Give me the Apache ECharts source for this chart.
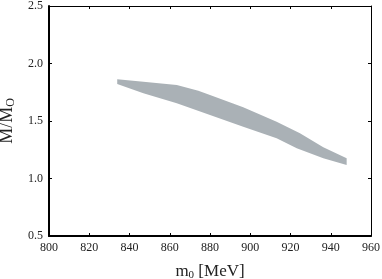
<!DOCTYPE html>
<html><head><meta charset="utf-8">
<script src="https://cdn.jsdelivr.net/npm/echarts@6/dist/echarts.min.js"></script>
<style>html,body{margin:0;padding:0;background:#fff}#c{width:382px;height:279px}</style>
</head><body><div id="c"></div>
<script>
var xTicks = [800, 820, 840, 860, 880, 900, 920, 940, 960];
var yTicks = [0.5, 1.0, 1.5, 2.0, 2.5];
var bandX = [833.9, 846.9, 863.5, 874.2, 880.0, 896.5, 913.1, 924.7, 936.3, 947.9];
var bandUpper = [1.863, 1.842, 1.813, 1.763, 1.726, 1.619, 1.494, 1.393, 1.271, 1.176];
var lowerX = [833.9, 846.9, 863.5, 880.0, 896.5, 913.1, 923.1, 936.3, 947.9];
var bandLower = [1.822, 1.741, 1.654, 1.552, 1.450, 1.350, 1.263, 1.176, 1.117];

var ring = [];
for (var i = 0; i < bandX.length; i++) ring.push([bandX[i], bandUpper[i]]);
for (var j = lowerX.length - 1; j >= 0; j--) ring.push([lowerX[j], bandLower[j]]);

var font = 'Liberation Serif';
var chart = echarts.init(document.getElementById('c'));
chart.setOption({
  animation: false,
  grid: {left: 49, right: 11, top: 6, bottom: 43, containLabel: false, outerBoundsMode: 'none'},
  xAxis: [{
    type: 'value', min: 800, max: 960, interval: 20, position: 'bottom',
    axisLine: {lineStyle: {color: '#000', width: 2}},
    axisTick: {inside: true, length: 3, lineStyle: {color: '#000'}},
    axisLabel: {color: '#222', fontFamily: font, fontSize: 12, margin: 6},
    splitLine: {show: false},
    name: 'm{s|0} [MeV]', nameLocation: 'middle', nameGap: 26,
    nameTextStyle: {color: '#222', fontFamily: font, fontSize: 17,
      rich: {s: {fontFamily: font, fontSize: 11, verticalAlign: 'bottom', padding: [8, 0, 0, 0]}}}
  }, {
    type: 'value', min: 800, max: 960, interval: 20, position: 'top',
    axisLine: {show: true, lineStyle: {color: '#000', width: 1}},
    axisTick: {inside: true, length: 3, lineStyle: {color: '#000'}},
    axisLabel: {show: false}, splitLine: {show: false}
  }],
  yAxis: [{
    type: 'value', min: 0.5, max: 2.5, interval: 0.5, position: 'left',
    axisLine: {show: true, lineStyle: {color: '#000', width: 2}},
    axisTick: {show: true, inside: true, length: 3, lineStyle: {color: '#000'}},
    axisLabel: {color: '#222', fontFamily: font, fontSize: 12, margin: 6,
      formatter: function (v) { return v.toFixed(1); }},
    splitLine: {show: false},
    name: 'M/M{s|O}', nameLocation: 'middle', nameGap: 30, nameRotate: 90,
    nameTextStyle: {color: '#222', fontFamily: font, fontSize: 18,
      rich: {s: {fontFamily: font, fontSize: 12, verticalAlign: 'bottom', padding: [8, 0, 0, 0]}}}
  }, {
    type: 'value', min: 0.5, max: 2.5, interval: 0.5, position: 'right',
    axisLine: {show: true, lineStyle: {color: '#000', width: 1}},
    axisTick: {show: true, inside: true, length: 3, lineStyle: {color: '#000'}},
    axisLabel: {show: false}, splitLine: {show: false}
  }],
  series: [{
    type: 'custom',
    xAxisIndex: 0, yAxisIndex: 0,
    data: ring,
    renderItem: function (params, api) {
      if (params.dataIndex !== 0) return;
      var pts = ring.map(function (p) { return api.coord(p); });
      return {type: 'polygon', shape: {points: pts, smooth: 0},
        style: {fill: '#aab1b6', stroke: null}};
    }
  }]
});
</script></body></html>
